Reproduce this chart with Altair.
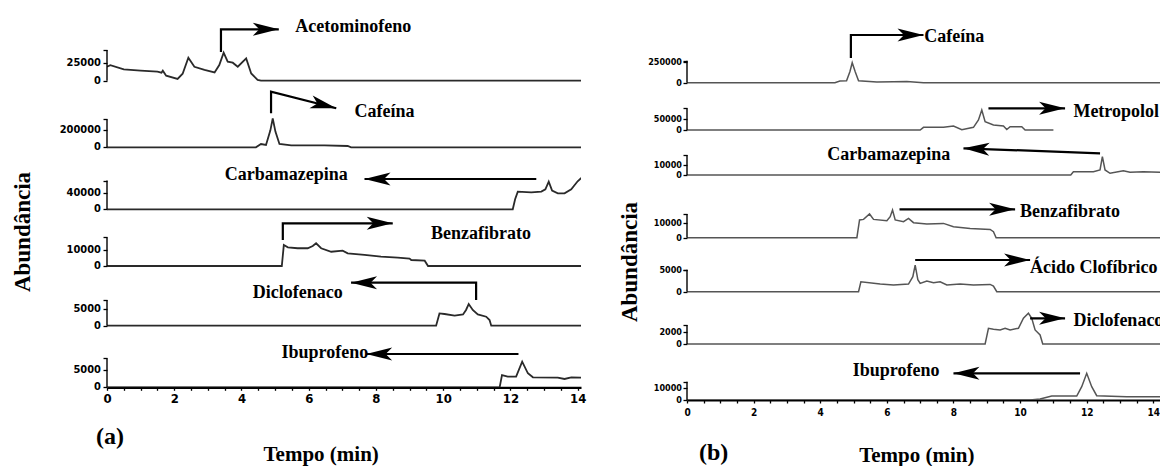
import altair as alt
import pandas as pd

# ---------------- panel (a) data ----------------
A_NAMES = ["Acetominofeno", "Cafeína", "Carbamazepina", "Benzafibrato", "Diclofenaco", "Ibuprofeno"]
A_LABEL_TXT = ["25000", "200000", "40000", "10000", "5000", "5000"]
A_LABEL_VAL = [25000, 200000, 40000, 10000, 5000, 5000]

a_acet_t = [0, 0.1, 0.5, 1.0, 1.5, 1.62, 1.66, 1.76, 2.1, 2.25, 2.42, 2.6, 2.9, 3.2, 3.34, 3.47, 3.59, 3.74, 3.89, 4.14, 4.29, 4.48, 4.58, 14.1]
a_acet_v = [19400, 21500, 15700, 13900, 12500, 11100, 13900, 6900, 2400, 9700, 31900, 19400, 14900, 11500, 21800, 38900, 26400, 25000, 19400, 31000, 10100, 1000, 0, 0]
a_caf_t = [0, 4.43, 4.58, 4.73, 4.86, 4.93, 5.01, 5.13, 5.48, 6.47, 7.16, 7.26, 14.1]
a_caf_v = [0, 0, 38800, 27100, 200000, 341000, 184700, 38800, 23500, 23500, 15300, 0, 0]
a_carb_t = [0, 12.07, 12.14, 12.22, 12.62, 12.92, 13.04, 13.14, 13.24, 13.41, 13.61, 13.81, 14.0, 14.1, 14.25]
a_carb_v = [0, 0, 25000, 44300, 42500, 44300, 50000, 69300, 46800, 40000, 40000, 50000, 70000, 77500, 85000]
a_benz_t = [0, 5.2, 5.26, 5.38, 5.67, 5.97, 6.12, 6.22, 6.37, 6.67, 7.01, 7.16, 7.66, 8.15, 8.65, 9.0, 9.05, 9.45, 9.55, 14.1]
a_benz_v = [0, 0, 13100, 11700, 11100, 11100, 12500, 14200, 11100, 8900, 9600, 7900, 6900, 5800, 5200, 4600, 3750, 3300, 0, 0]
a_dicl_t = [0, 9.79, 9.89, 10.04, 10.34, 10.59, 10.68, 10.76, 10.88, 11.03, 11.28, 11.38, 11.43, 14.1]
a_dicl_v = [0, 0, 3620, 3440, 2940, 3320, 4620, 6380, 4620, 3320, 2650, 1680, 0, 0]
a_ibu_t = [0, 11.68, 11.75, 11.92, 12.17, 12.35, 12.52, 12.67, 13.41, 13.61, 13.81, 14.1]
a_ibu_v = [0, 0, 3550, 3090, 3090, 7430, 4050, 2890, 2800, 2400, 2890, 2800]

# ---------------- panel (b) data ----------------
B_NAMES = ["Cafeína", "Metropolol", "Carbamazepina", "Benzafibrato", "Ácido Clofíbrico", "Diclofenaco", "Ibuprofeno"]
B_LABEL_TXT = ["250000", "50000", "10000", "10000", "5000", "2000", "10000"]
B_LABEL_VAL = [250000, 50000, 10000, 10000, 5000, 2000, 10000]

b_caf_t = [0, 4.44, 4.59, 4.79, 4.89, 4.96, 5.05, 5.15, 5.7, 6.2, 6.6, 7.1, 14.2]
b_caf_v = [0, 0, 20200, 23800, 131000, 238000, 131000, 23800, 8300, 11900, 15500, 0, 0]
b_met_t = [0, 7.0, 7.1, 7.7, 8.0, 8.25, 8.6, 8.75, 8.85, 8.95, 9.2, 9.5, 9.6, 9.7, 10.05, 10.15, 11.0]
b_met_v = [0, 0, 12600, 12600, 18700, 1400, 12600, 46700, 93400, 38800, 23400, 18700, 2300, 15400, 15400, 0, 0]
b_carb_t = [0, 11.52, 11.6, 12.2, 12.4, 12.47, 12.55, 12.7, 13.1, 13.3, 13.7, 14.2]
b_carb_v = [0, 0, 3300, 3300, 5000, 18300, 5000, 1700, 4300, 2700, 3300, 2700]
b_benz_t = [0, 5.1, 5.18, 5.3, 5.48, 5.6, 6.0, 6.1, 6.17, 6.25, 6.5, 6.65, 6.8, 7.2, 7.7, 8.0, 8.5, 9.1, 9.2, 9.28, 14.2]
b_benz_v = [0, 0, 12400, 12800, 16600, 12800, 11900, 14700, 19400, 12400, 11200, 13500, 10500, 9600, 10000, 7700, 6500, 5800, 4200, 0, 0]
b_clof_t = [0, 5.15, 5.22, 5.8, 6.2, 6.65, 6.78, 6.85, 6.93, 7.0, 7.2, 7.4, 7.6, 7.8, 8.2, 8.6, 9.1, 9.2, 9.3, 14.2]
b_clof_v = [0, 0, 2300, 1770, 1540, 1770, 3450, 6140, 2760, 1910, 2460, 2070, 2300, 1540, 1770, 1540, 1680, 1310, 0, 0]
b_dicl_t = [0, 8.95, 9.05, 9.2, 9.4, 9.55, 9.7, 9.95, 10.1, 10.25, 10.35, 10.45, 10.6, 10.68, 14.2]
b_dicl_v = [0, 0, 2560, 2400, 2280, 2560, 2280, 2560, 4190, 5000, 4190, 2280, 1470, 0, 0]
b_ibu_t = [0, 10.3, 10.6, 10.95, 11.7, 11.85, 12.0, 12.15, 12.3, 13.2, 14.2]
b_ibu_v = [0, 0, 855, 3420, 3420, 11400, 22800, 11400, 3680, 2820, 2820]

# ---------------- layout (stacking offsets, label heights) ----------------
A_BASE = [306.6, 240, 178, 121.3, 61.6, 0]
A_LABPX = [18, 17, 16, 16, 17, 17.3]
A_TOPPX = [30.7, 28, 28.7, 28.7, 25.7, 29]
B_BASE = [317.3, 270, 225, 162.3, 108.3, 56, 0]
B_LABPX = [21, 10.7, 10, 14.3, 21.7, 12.3, 11.7]
B_TOPPX = [22, 21.7, 20, 23.7, 22, 19, 18.3]

# annotation arrows (time, level) and texts
A_ARROWS = [[(3.39, 335.3), (3.39, 358), (5.11, 358)],
            [(4.88, 274), (4.88, 295.6), (6.82, 279)],
            [(12.77, 208.3), (7.66, 208.3)],
            [(5.23, 147.3), (5.23, 164), (8.5, 164)],
            [(10.98, 87.3), (10.98, 104.6), (7.26, 104.6)],
            [(12.24, 33.3), (7.71, 33.3)]]
A_HEAD_ANGLE = [0, 14.3, 180, 0, 180, 180]
A_TEXT = [(5.6, 360, "left"), (7.36, 275.6, "left"), (7.16, 212.3, "right"),
          (9.64, 153.3, "left"), (7.01, 94.6, "right"), (7.77, 34.6, "right")]
B_ARROWS = [[(4.92, 342), (4.92, 365), (7.1, 365)],
            [(9.05, 291.7), (11.35, 291.7)],
            [(12.4, 246.7), (8.3, 251.7)],
            [(6.38, 190.7), (9.85, 190.7)],
            [(6.85, 140), (10.3, 140)],
            [(10.3, 81.7), (11.35, 81.7)],
            [(11.8, 26.7), (8.0, 26.7)]]
B_HEAD_ANGLE = [0, 0, 182.1, 0, 0, 0, 180]
B_TEXT = [(7.12, 363, "left"), (11.6, 288.3, "left"), (7.9, 245, "right"),
          (10.0, 187.7, "left"), (10.3, 131.7, "left"), (11.6, 79.3, "left"), (7.58, 29.3, "right")]

A_EXTRA = [("(a)", 0.09, -49.7, 24, 0), ("Tempo (min)", 6.37, -67.7, 21, 0), ("Abundância", -2.5, 155.3, 23, 270)]
B_EXTRA = [("(b)", 0.8, -53, 24, 0), ("Tempo (min)", 6.9, -56, 21, 0), ("Abundância", -1.7, 138, 23, 270)]

ARROW_PATH = "M0,0 L-2,-0.5 L-1.5,0 L-2,0.5 Z"
SERIF = "Liberation Serif, Times New Roman, serif"
SANS = "Liberation Sans Narrow, DejaVu Sans Condensed, Liberation Sans, Arial, sans-serif"


def build_panel(names, times, values, labval, labtxt, base, labpx, toppx,
                arrows, angles, texts, extras, xmax, width, height,
                trace_color, trace_w, ylab_fs, ylab_dx, xlab_fs, xlab_pad):
    tr, br, yl, yt = [], [], [], []
    for i, n in enumerate(names):
        for k, (t, v) in enumerate(zip(times[i], values[i])):
            tr.append({"name": n, "k": k, "t": t, "y": base[i] + v / labval[i] * labpx[i]})
        br.append({"t": 0, "y": base[i], "y2": base[i] + toppx[i]})
        yl.append({"t": 0, "y": base[i], "s": "0"})
        yl.append({"t": 0, "y": base[i] + labpx[i], "s": labtxt[i]})
        yt += [base[i], base[i] + labpx[i], base[i] + toppx[i]]
    ar, hd = [], []
    for i, pts in enumerate(arrows):
        for k, (t, y) in enumerate(pts):
            ar.append({"id": i, "k": k, "t": t, "y": y})
        hd.append({"t": pts[-1][0], "y": pts[-1][1], "ang": angles[i]})
    tx = [{"t": t, "y": y, "s": names[i], "al": al} for i, (t, y, al) in enumerate(texts)]
    ex = [{"s": s, "t": t, "y": y, "fs": fs, "ang": ang} for (s, t, y, fs, ang) in extras]

    xs = alt.Scale(domain=[0, xmax], nice=False, zero=False)
    ys = alt.Scale(domain=[0, height], nice=False, zero=False)
    xvals = [i * 0.5 for i in range(0, 29)]
    X = alt.X("t:Q", scale=xs, axis=alt.Axis(
        values=xvals, labelExpr="datum.value % 2 == 0 ? format(datum.value, 'd') : ''",
        title=None, grid=False, tickSize=3, tickWidth=1.3, domainWidth=2.2,
        labelFont=SANS, labelFontSize=xlab_fs, labelFontWeight="bold",
        labelPadding=xlab_pad, labelOverlap=False, labelFlush=False))
    Y = alt.Y("y:Q", scale=ys, axis=alt.Axis(
        values=yt, labels=False, domain=False, grid=False, ticks=True,
        tickSize=4, tickWidth=1.3, title=None))

    lines = alt.Chart(pd.DataFrame(tr)).mark_line(
        clip=True, color=trace_color, strokeWidth=trace_w).encode(X, Y, detail="name:N", order="k:Q")
    brackets = alt.Chart(pd.DataFrame(br)).mark_rule(color="black", strokeWidth=1.4).encode(X, Y, y2="y2:Q")
    ylabels = alt.Chart(pd.DataFrame(yl)).mark_text(
        align="right", baseline="middle", dx=ylab_dx, font=SANS, fontSize=ylab_fs,
        fontWeight="bold", color="black").encode(X, Y, text="s:N")
    arr = alt.Chart(pd.DataFrame(ar)).mark_line(color="black", strokeWidth=2.2, clip=True).encode(
        X, Y, detail="id:N", order="k:Q")
    heads = alt.Chart(pd.DataFrame(hd)).mark_point(
        shape=ARROW_PATH, filled=True, size=676, color="black", opacity=1, strokeWidth=0).encode(
        X, Y, angle=alt.Angle("ang:Q", scale=None))
    txdf = pd.DataFrame(tx)
    tl = alt.Chart(txdf[txdf.al == "left"]).mark_text(
        align="left", baseline="middle", font=SERIF, fontSize=18, fontWeight="bold",
        color="black", clip=True).encode(X, Y, text="s:N")
    trr = alt.Chart(txdf[txdf.al == "right"]).mark_text(
        align="right", baseline="middle", font=SERIF, fontSize=18, fontWeight="bold",
        color="black", clip=True).encode(X, Y, text="s:N")
    extra = alt.Chart(pd.DataFrame(ex)).mark_text(
        align="center", baseline="middle", font=SERIF, fontWeight="bold", color="black").encode(
        X, Y, text="s:N", size=alt.Size("fs:Q", scale=None), angle=alt.Angle("ang:Q", scale=None))
    return alt.layer(lines, brackets, ylabels, arr, heads, tl, trr, extra).properties(
        width=width, height=height)


left = build_panel(A_NAMES,
                   [a_acet_t, a_caf_t, a_carb_t, a_benz_t, a_dicl_t, a_ibu_t],
                   [a_acet_v, a_caf_v, a_carb_v, a_benz_v, a_dicl_v, a_ibu_v],
                   A_LABEL_VAL, A_LABEL_TXT, A_BASE, A_LABPX, A_TOPPX,
                   A_ARROWS, A_HEAD_ANGLE, A_TEXT, A_EXTRA,
                   xmax=14.1, width=474, height=372.3,
                   trace_color="#2a2a2a", trace_w=1.8, ylab_fs=11, ylab_dx=-6,
                   xlab_fs=13, xlab_pad=2)
right = build_panel(B_NAMES,
                    [b_caf_t, b_met_t, b_carb_t, b_benz_t, b_clof_t, b_dicl_t, b_ibu_t],
                    [b_caf_v, b_met_v, b_carb_v, b_benz_v, b_clof_v, b_dicl_v, b_ibu_v],
                    B_LABEL_VAL, B_LABEL_TXT, B_BASE, B_LABPX, B_TOPPX,
                    B_ARROWS, B_HEAD_ANGLE, B_TEXT, B_EXTRA,
                    xmax=14.2, width=473, height=385,
                    trace_color="#555555", trace_w=1.5, ylab_fs=9, ylab_dx=-5,
                    xlab_fs=10, xlab_pad=4)

chart = alt.hconcat(left, right, spacing=33).properties(
    padding={"left": 11, "top": 15, "right": 0, "bottom": 0}
).configure_view(stroke=None).configure_axis(
    domainColor="black", tickColor="black", labelColor="black")

chart.save("out.html", embed_options={"renderer": "svg", "actions": False})
